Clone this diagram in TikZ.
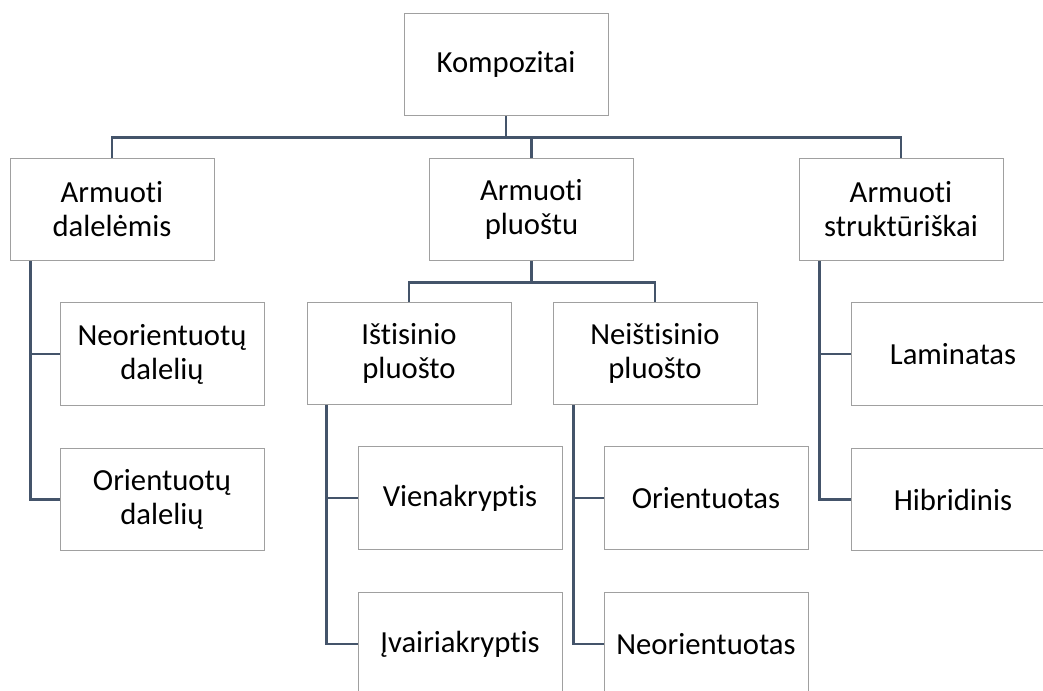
\documentclass[tikz,border=0pt]{standalone}
\usepackage{fontspec}
\setmainfont{Carlito}[Ligatures=NoCommon]
\definecolor{boxgray}{HTML}{A0A0A0}
\definecolor{linkblue}{HTML}{44546A}
\tikzset{
	item/.style={draw=boxgray,line width=0.75pt,fill=white,minimum width=153pt,minimum height=77pt,inner sep=0pt,align=center,font=\fontsize{23pt}{25.5pt}\selectfont},
	link/.style={draw=linkblue,line width=2pt}
}
\begin{document}
\begin{tikzpicture}[x=0.75pt,y=-0.75pt]
	\clip (0,0) rectangle (1043,690);
	% upper levels
	\node[item] (komp)   at (506,64.5)   {Kompozitai};
	\node[item] (dal)    at (112,209.5)  {Armuoti\\dalelėmis};
	\node[item] (pluo)   at (531.5,209.5) {Armuoti\\pluoštu};
	\node[item] (strukt) at (901,209.5)  {Armuoti\\struktūriškai};
	\node[item] (isti)   at (409,353.5)  {Ištisinio\\pluošto};
	\node[item] (neis)   at (655,353.5)  {Neištisinio\\pluošto};
	% leaves
	\node[item] (neo)  at (162,354)   {Neorientuotų\\dalelių};
	\node[item] (ori)  at (162,499.5) {Orientuotų\\dalelių};
	\node[item] (vien) at (460,498)   {Vienakryptis};
	\node[item] (ivai) at (460,644)   {Įvairiakryptis};
	\node[item] (orie) at (706,498)   {Orientuotas};
	\node[item] (neor) at (706,644)   {Neorientuotas};
	\node[item] (lam)  at (953,354)   {Laminatas};
	\node[item] (hib)  at (953,499.5) {Hibridinis};
	% connectors
	\draw[link] (komp.south) -- ++(0,21) coordinate (kbar);
	\draw[link] (dal.north) |- (kbar) -| (strukt.north);
	\draw[link] (pluo.north) -- (pluo.north |- kbar);
	\draw[link] (pluo.south) -- ++(0,21) coordinate (pbar);
	\draw[link] (isti.north) |- (pbar) -| (neis.north);
	\draw[link] (dal.south west) ++(21,0) |- (neo.west);
	\draw[link] (dal.south west) ++(21,0) |- (ori.west);
	\draw[link] (isti.south west) ++(20,0) |- (vien.west);
	\draw[link] (isti.south west) ++(20,0) |- (ivai.west);
	\draw[link] (neis.south west) ++(21,0) |- (orie.west);
	\draw[link] (neis.south west) ++(21,0) |- (neor.west);
	\draw[link] (strukt.south west) ++(21,0) |- (lam.west);
	\draw[link] (strukt.south west) ++(21,0) |- (hib.west);
\end{tikzpicture}
\end{document}
